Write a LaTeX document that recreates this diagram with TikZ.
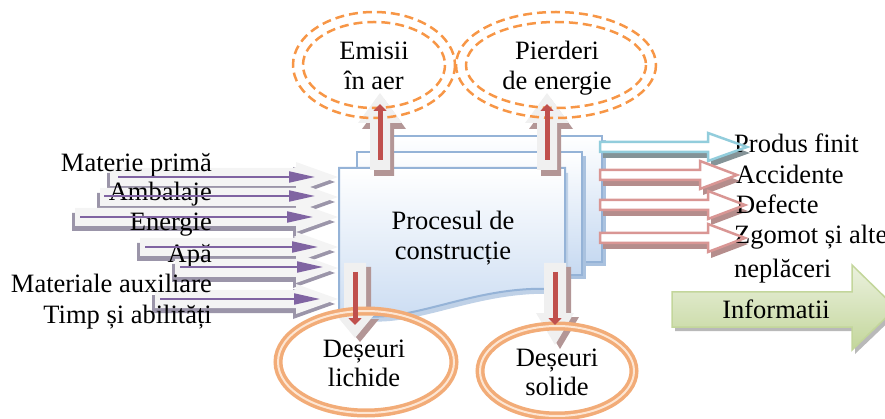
\documentclass[tikz,border=0pt]{standalone}
\usepackage{fontspec}
\setmainfont{Liberation Serif}
\usetikzlibrary{arrows.meta}
\definecolor{boxline}{HTML}{95B3D7}
\definecolor{boxfill}{HTML}{C6D9F1}
\definecolor{purp}{HTML}{8064A2}
\definecolor{redl}{HTML}{C0504D}
\definecolor{orng}{HTML}{F79646}
\definecolor{ringc}{HTML}{F2AC78}
\definecolor{ringl}{HTML}{FDE6D3}
\definecolor{cyanl}{HTML}{92CDDC}
\definecolor{pinkl}{HTML}{D99694}
\definecolor{gshadow}{HTML}{9B95A9}
\definecolor{bshadow}{HTML}{B39696}
\definecolor{greenl}{HTML}{EBF1DE}
\definecolor{greend}{HTML}{C3D69B}
% horizontal block arrow: x1, xtip, ycenter, shaft half, head half, head length
\newcommand{\hbarrow}[6]{(#1,#3-#4) -- (#2-#6,#3-#4) -- (#2-#6,#3-#5) -- (#2,#3) -- (#2-#6,#3+#5) -- (#2-#6,#3+#4) -- (#1,#3+#4) -- cycle}
% vertical down block arrow: xcenter, ytop, ytip, shaft half, head half, head length
\newcommand{\dbarrow}[6]{(#1-#4,#2) -- (#1+#4,#2) -- (#1+#4,#3-#6) -- (#1+#5,#3-#6) -- (#1,#3) -- (#1-#5,#3-#6) -- (#1-#4,#3-#6) -- cycle}
% vertical up block arrow: xcenter, ybottom, ytip, shaft half, head half, head length
\newcommand{\ubarrow}[6]{(#1-#4,#2) -- (#1+#4,#2) -- (#1+#4,#3+#6) -- (#1+#5,#3+#6) -- (#1,#3) -- (#1-#5,#3+#6) -- (#1-#4,#3+#6) -- cycle}
\begin{document}
\begin{tikzpicture}[x=1pt,y=-1pt,
  font=\fontsize{26.5}{31}\selectfont,
  lbl/.style={inner sep=0pt},
  inarrow/.style={purp,line width=2pt,-{Triangle[length=26pt,width=11pt]}},
  redarrow/.style={redl,line width=5pt,-{Triangle[length=7pt,width=13pt]}},
  blockin/.style={fill=gray!9,draw=none},
  blockshadow/.style={fill=gshadow,draw=none},
  dashell/.style={orng,line width=2.5pt,dash pattern=on 9pt off 5pt},
  boxst/.style={draw=boxline,line width=2pt,top color=white,bottom color=boxfill}
]
\useasboundingbox (0,0) rectangle (885,419);

% ---- process box (multi-document) ----
\path[fill=boxline!80] (382,140) rectangle (606,266);
\path[boxst] (378,136) rectangle (602,262);
\path[fill=boxline!80] (361,156) rectangle (586,279);
\path[boxst] (357,152) rectangle (582,275);
\path[fill=boxline!60,shift={(3,5)}] (339,168) -- (565,168) -- (565,290) .. controls (470,280) and (400,335) .. (339,310) -- cycle;
\path[boxst] (339,168) -- (565,168) -- (565,290) .. controls (470,280) and (400,335) .. (339,310) -- cycle;
\node[lbl,anchor=base] (proc1) at (453,230) {Procesul de};
\node[lbl,anchor=base] (proc2) at (453,260) {construcție};

% ---- input block arrows ----
\foreach \xs/\yc in {110/177,100/197,75/217,140/247,175/268,155/299}{
  \path[blockshadow,shift={(-3,5)}] \hbarrow{\xs}{338}{\yc}{9}{15}{42};
}
\foreach \xs/\yc in {110/177,100/197,75/217,140/247,175/268,155/299}{
  \path[blockin] \hbarrow{\xs}{338}{\yc}{9}{15}{42};
}
% input labels
\node[lbl,anchor=base east] (in1) at (212,172) {Materie primă};
\node[lbl,anchor=base east] (in2) at (212,201) {Ambalaje};
\node[lbl,anchor=base east] (in3) at (212,231) {Energie};
\node[lbl,anchor=base east] (in4) at (212,263) {Apă};
\node[lbl,anchor=base east] (in5) at (212,293) {Materiale auxiliare};
\node[lbl,anchor=base east] (in6) at (212,323) {Timp și abilități};
% purple arrows
\foreach \xs/\xe/\yc in {118/315/177,104/315/196,80/313/217,145/318/247,180/323/267,160/320/299}{
  \draw[inarrow] (\xs,\yc) -- (\xe,\yc);
}

% ---- output block arrows ----
\path[fill=gray!75!cyanl,shift={(3,6)}] \hbarrow{600}{747}{147}{5}{14}{39};
\foreach \te/\yc in {737/175,745/205,745/238}{
  \path[fill=pinkl!60!gray,shift={(3,6)}] \hbarrow{600}{\te}{\yc}{5}{14}{37};
}
\path[fill=white] \hbarrow{600}{747}{147}{5}{14}{39};
\foreach \te/\yc in {737/175,745/205,745/238}{
  \path[fill=white] \hbarrow{600}{\te}{\yc}{5}{14}{37};
}
\node[lbl,anchor=base west] (out1) at (734,153) {Produs finit};
\node[lbl,anchor=base west] (out2) at (736,184) {Accidente};
\node[lbl,anchor=base west] (out3) at (736,214) {Defecte};
\node[lbl,anchor=base west] (out4) at (734,244) {Zgomot și alte};
\node[lbl,anchor=base west] (out5) at (734,277) {neplăceri};
\draw[cyanl,line width=2.5pt,line join=miter] \hbarrow{600}{747}{147}{5}{14}{39};
\foreach \te/\yc in {737/175,745/205,745/238}{
  \draw[pinkl,line width=2.5pt,line join=miter] \hbarrow{600}{\te}{\yc}{5}{14}{37};
}

% ---- Informatii arrow ----
\path[fill=gray!55,shift={(3,4)}] (672,292) -- (852,292) -- (852,265) -- (896,308) -- (852,350) -- (852,327) -- (672,327) -- cycle;
\path[draw=greend,line width=1.5pt,top color=greenl,bottom color=greend] (672,292) -- (852,292) -- (852,265) -- (896,308) -- (852,350) -- (852,327) -- (672,327) -- cycle;
\node[lbl,anchor=base] (info) at (776,318) {Informatii};

% ---- up arrows ----
\foreach \xc in {380,547}{
  \path[fill=bshadow,shift={(4,6)}] \ubarrow{\xc}{170}{93}{10}{22}{30};
  \path[fill=gray!12] \ubarrow{\xc}{170}{93}{10}{22}{30};
}
\draw[dashell] (374,65) ellipse [x radius=81,y radius=53];
\draw[dashell] (374,65) ellipse [x radius=71,y radius=43];
\draw[dashell] (556,65) ellipse [x radius=100,y radius=53];
\draw[dashell] (556,65) ellipse [x radius=90,y radius=43];
\coordinate (ua1) at (380,160); \coordinate (ub1) at (380,104);
\coordinate (ua2) at (547,160); \coordinate (ub2) at (547,104);
\draw[redarrow] (ua1) -- (ub1);
\draw[redarrow] (ua2) -- (ub2);
\node[lbl,anchor=base] (em1) at (374,60) {Emisii};
\node[lbl,anchor=base] (em2) at (374,90) {în aer};
\node[lbl,anchor=base] (pe1) at (557,60) {Pierderi};
\node[lbl,anchor=base] (pe2) at (557,90) {de energie};

% ---- down arrows ----
\path[fill=bshadow,shift={(5,4)}] \dbarrow{355}{263}{338}{11}{19}{23};
\path[fill=gray!12] \dbarrow{355}{263}{338}{11}{19}{23};
\path[fill=bshadow,shift={(5,4)}] \dbarrow{555}{263}{345}{11}{19}{32};
\path[fill=gray!12] \dbarrow{555}{263}{345}{11}{19}{32};
% rings
\draw[ringc,line width=9pt] (366,362) ellipse [x radius=88,y radius=51];
\draw[ringl,line width=2pt] (366,362) ellipse [x radius=88,y radius=51];
\draw[ringc,line width=9pt] (557,371) ellipse [x radius=77,y radius=45];
\draw[ringl,line width=2pt] (557,371) ellipse [x radius=77,y radius=45];
\coordinate (da1) at (355,272); \coordinate (db1) at (355,325);
\coordinate (da2) at (555,272); \coordinate (db2) at (555,325);
\draw[redarrow] (da1) -- (db1);
\draw[redarrow] (da2) -- (db2);
\node[lbl,anchor=base] (dl1) at (364,357) {Deșeuri};
\node[lbl,anchor=base] (dl2) at (364,386) {lichide};
\node[lbl,anchor=base] (ds1) at (557,366) {Deșeuri};
\node[lbl,anchor=base] (ds2) at (557,395) {solide};
\end{tikzpicture}
\end{document}
